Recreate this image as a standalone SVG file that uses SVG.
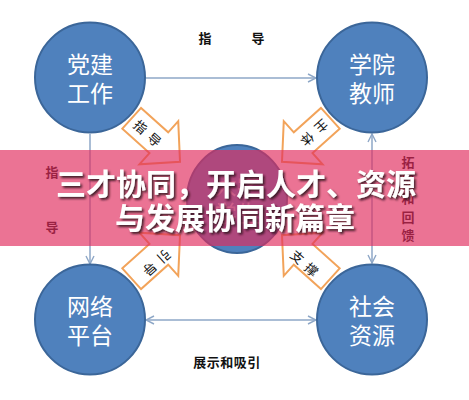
<svg xmlns="http://www.w3.org/2000/svg" width="469" height="400" viewBox="0 0 469 400">
  <style>
    .node circle, .node ellipse { fill: #4F81BD; stroke: #3B6699; stroke-width: 2; }
    .ntxt { font-family: "Noto Sans CJK SC", "Noto Sans", sans-serif; font-size: 23px; fill: #FFFFFF; text-anchor: middle; dominant-baseline: central; }
    .conn line { stroke: #8EA7C7; stroke-width: 1.5; fill: none; }
    .lbl { font-family: "Noto Sans CJK SC", sans-serif; font-size: 13px; font-weight: bold; fill: #111111; text-anchor: middle; dominant-baseline: central; }
    .atxt { font-family: "Noto Sans CJK SC", sans-serif; font-size: 13px; fill: #111111; text-anchor: middle; dominant-baseline: central; letter-spacing: 6px; }
    .title { font-family: "Noto Sans CJK SC", sans-serif; font-size: 30px; font-weight: bold; fill: #FFFFFF; text-anchor: middle; }
  </style>
  <defs>
    <marker id="chev" viewBox="0 0 10 10" refX="9" refY="5" markerWidth="10" markerHeight="10" markerUnits="userSpaceOnUse" orient="auto-start-reverse">
      <path d="M1,1 L9,5 L1,9" fill="none" stroke="#8EA7C7" stroke-width="1.4"/>
    </marker>
    <polygon id="blk" points="0,-14 36.5,-14 36.5,-29 65,0 36.5,29 36.5,14 0,14"/>
    <filter id="shadow" x="-10%" y="-30%" width="120%" height="160%">
      <feDropShadow dx="1.8" dy="2" stdDeviation="1.3" flood-color="#2a1018" flood-opacity="0.85"/>
    </filter>
  </defs>

  <rect width="469" height="400" fill="#FFFFFF"/>

  <g id="connectors" class="conn">
    <line x1="146" y1="78" x2="316" y2="78" marker-end="url(#chev)"/>
    <line x1="146" y1="320" x2="316" y2="320" marker-start="url(#chev)" marker-end="url(#chev)"/>
    <line x1="90" y1="134" x2="90" y2="264" marker-end="url(#chev)"/>
    <line x1="372" y1="134" x2="372" y2="263" marker-start="url(#chev)" marker-end="url(#chev)"/>
  </g>

  <g id="labels">
    <text class="lbl" x="205" y="37">指</text>
    <text class="lbl" x="258" y="37">导</text>
    <text class="lbl" x="52" y="171">指</text>
    <text class="lbl" x="52" y="226">导</text>
    <text class="lbl" x="408" y="161.5">拓</text>
    <text class="lbl" x="408" y="179.7">展</text>
    <text class="lbl" x="408" y="197.9">和</text>
    <text class="lbl" x="408" y="216.1">回</text>
    <text class="lbl" x="408" y="234.3">馈</text>
    <text class="lbl" x="227" y="361.5" font-size="14" letter-spacing="0.5">展示和吸引</text>
  </g>

  <g id="node-center" class="node">
    <ellipse cx="237" cy="199" rx="50" ry="54"/>
    <text class="ntxt" x="237" y="184" font-size="20" opacity="0.5">大学</text>
    <text class="ntxt" x="237" y="212" font-size="20" opacity="0.5">学生</text>
  </g>

  <g id="node-dangjian" class="node">
    <circle cx="90" cy="77.5" r="55"/>
    <text class="ntxt" x="90" y="63">党建</text>
    <text class="ntxt" x="90" y="92">工作</text>
  </g>
  <g id="node-jiaoshi" class="node">
    <circle cx="372" cy="77.5" r="55"/>
    <text class="ntxt" x="372" y="63">学院</text>
    <text class="ntxt" x="372" y="92">教师</text>
  </g>
  <g id="node-wangluo" class="node">
    <circle cx="90" cy="319.5" r="55"/>
    <text class="ntxt" x="90" y="305">网络</text>
    <text class="ntxt" x="90" y="334">平台</text>
  </g>
  <g id="node-shehui" class="node">
    <circle cx="372" cy="319.5" r="55"/>
    <text class="ntxt" x="372" y="305">社会</text>
    <text class="ntxt" x="372" y="334">资源</text>
  </g>

  <g id="arrow-zhidao">
    <use href="#blk" transform="translate(131.7,118.3) rotate(42)" fill="#FFFFFF" stroke="#F2A35A" stroke-width="2"/>
    <text class="atxt" transform="translate(150,135) rotate(42)">指导</text>
  </g>
  <g id="arrow-zhuti">
    <use href="#blk" transform="translate(330.3,118.3) rotate(138)" fill="#FFFFFF" stroke="#F2A35A" stroke-width="2"/>
    <text class="atxt" transform="translate(312.5,135) rotate(138)">主体</text>
  </g>
  <g id="arrow-yindao">
    <use href="#blk" transform="translate(131.7,278.7) rotate(-42)" fill="#FFFFFF" stroke="#F2A35A" stroke-width="2"/>
    <text class="atxt" transform="translate(155,265) rotate(138)">引导</text>
  </g>
  <g id="arrow-zhicheng">
    <use href="#blk" transform="translate(330.3,278.7) rotate(222)" fill="#FFFFFF" stroke="#F2A35A" stroke-width="2"/>
    <text class="atxt" transform="translate(307,265) rotate(42)">支撑</text>
  </g>

  <g id="banner">
    <rect x="0" y="150" width="469" height="96" fill="rgb(224,42,92)" fill-opacity="0.66"/>
    <g filter="url(#shadow)">
      <text class="title" x="236" y="194.5">三才协同，开启人才、资源</text>
      <text class="title" x="235" y="229">与发展协同新篇章</text>
    </g>
  </g>
</svg>
